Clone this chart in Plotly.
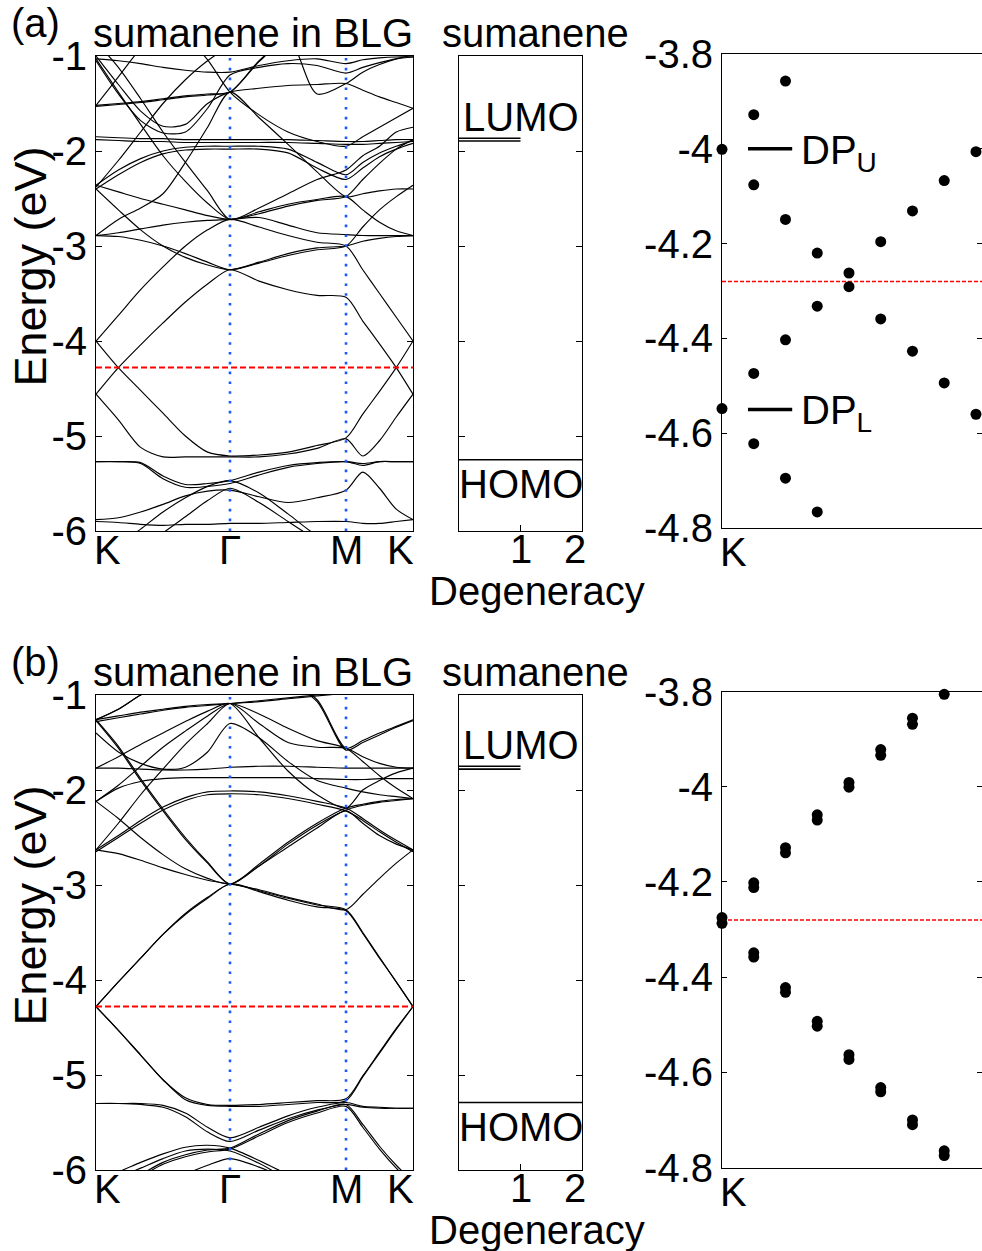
import plotly.graph_objects as go

W, H = 982, 1251
FONT = "Liberation Sans, Arial, Helvetica, sans-serif"
FS = 40
FS_YLAB = 45

# ---------------- data ----------------
# k-path K -> Gamma -> M -> K (units of |Gamma K|)
K_PATH = [0.0, 0.167, 0.333, 0.5, 0.667, 0.833, 1.0, 1.217, 1.433, 1.65, 1.866, 1.991, 2.116, 2.241, 2.366]
HS_POS = [0.0, 1.0, 1.866, 2.366]
HS_LABELS = ["K", "Γ", "M", "K"]
E_FERMI = -4.28

# band energies (eV) at K_PATH points, panel (a)
BANDS_A = [
    [-4.00, -3.73, -3.46, -3.22, -3.00, -2.83, -2.72, -2.80, -2.89, -2.96, -3.00, -3.25, -3.50, -3.75, -4.00],
    [-4.56, -4.28, -4.04, -3.81, -3.59, -3.40, -3.25, -3.37, -3.46, -3.52, -3.54, -3.79, -4.03, -4.28, -4.56],
    [-4.00, -4.28, -4.52, -4.76, -5.00, -5.17, -5.21, -5.20, -5.17, -5.10, -5.02, -4.77, -4.53, -4.28, -4.00],
    [-4.56, -4.83, -5.12, -5.22, -5.22, -5.22, -5.22, -5.22, -5.19, -5.13, -5.03, -5.21, -5.05, -4.80, -4.56],
    [-5.27, -5.27, -5.28, -5.42, -5.51, -5.50, -5.47, -5.38, -5.31, -5.28, -5.27, -5.31, -5.27, -5.27, -5.27],
    [-5.27, -5.27, -5.29, -5.45, -5.54, -5.53, -5.50, -5.41, -5.33, -5.29, -5.27, -5.29, -5.27, -5.27, -5.27],
    [-5.88, -5.86, -5.80, -5.72, -5.63, -5.58, -5.57, -5.64, -5.70, -5.65, -5.57, -5.38, -5.55, -5.77, -5.88],
    [-5.90, -5.91, -5.93, -5.94, -5.93, -5.93, -5.92, -5.92, -5.91, -5.90, -5.90, -5.92, -5.92, -5.90, -5.88],
    [-6.30, -6.15, -5.98, -5.80, -5.65, -5.53, -5.47, -5.60, -5.82, -6.05, -6.20, -6.30, -6.30, -6.30, -6.30],
    [-6.50, -6.40, -6.20, -6.02, -5.85, -5.68, -5.55, -5.70, -5.90, -6.10, -6.30, -6.40, -6.40, -6.40, -6.40],
    [-1.52, -1.50, -1.48, -1.45, -1.42, -1.40, -1.38, -1.05, -0.80, -0.70, -0.70, -0.70, -0.70, -0.70, -0.70],
    [-1.53, -1.51, -1.49, -1.46, -1.43, -1.41, -1.38, -1.06, -0.80, -0.70, -0.70, -0.70, -0.70, -0.70, -0.70],
    [-2.89, -2.72, -2.60, -2.45, -2.12, -1.75, -1.38, -1.65, -1.93, -2.22, -2.48, -2.45, -2.42, -2.40, -2.40],
    [-1.00, -1.30, -1.58, -1.74, -1.72, -1.50, -1.38, -1.34, -1.31, -1.30, -1.29, -1.36, -1.43, -1.49, -1.55],
    [-1.05, -1.40, -1.68, -1.81, -1.80, -1.55, -1.20, -1.12, -1.08, -1.10, -1.18, -1.12, -1.07, -1.03, -1.01],
    [-0.70, -0.70, -0.70, -0.70, -0.70, -0.70, -0.70, -0.70, -0.78, -1.40, -1.29, -1.17, -1.09, -1.03, -0.99],
    [-0.70, -0.70, -0.70, -0.70, -0.80, -1.04, -1.38, -1.62, -1.80, -1.90, -1.95, -1.85, -1.75, -1.65, -1.55],
    [-1.85, -1.86, -1.87, -1.87, -1.88, -1.88, -1.88, -1.88, -1.88, -1.89, -1.90, -1.90, -1.89, -1.88, -1.88],
    [-1.88, -1.89, -1.90, -1.90, -1.91, -1.91, -1.91, -1.91, -1.91, -1.92, -1.93, -1.93, -1.92, -1.91, -1.90],
    [-2.36, -2.20, -2.08, -2.00, -1.96, -1.95, -1.95, -1.95, -1.98, -2.12, -2.25, -2.12, -2.02, -1.95, -1.89],
    [-2.40, -2.25, -2.12, -2.03, -1.99, -1.98, -1.98, -1.98, -2.02, -2.18, -2.30, -2.18, -2.06, -1.98, -1.92],
    [-2.36, -2.43, -2.50, -2.56, -2.62, -2.68, -2.72, -2.66, -2.58, -2.52, -2.48, -2.30, -2.13, -1.98, -1.88],
    [-2.40, -2.62, -2.83, -3.00, -3.12, -3.20, -3.25, -3.18, -3.10, -3.04, -3.00, -2.80, -2.62, -2.48, -2.36],
    [-2.89, -2.90, -2.94, -3.00, -3.08, -3.17, -3.25, -3.17, -3.08, -3.02, -3.00, -2.95, -2.92, -2.90, -2.89],
    [-2.89, -2.86, -2.82, -2.78, -2.75, -2.73, -2.72, -2.70, -2.78, -2.86, -2.88, -2.89, -2.89, -2.89, -2.89],
    [-1.52, -1.22, -0.92, -0.70, -0.70, -0.70, -0.70, -0.70, -0.70, -0.70, -0.70, -0.70, -0.70, -0.70, -0.70],
    [-1.03, -1.38, -1.72, -2.05, -2.32, -2.55, -2.72, -2.64, -2.56, -2.51, -2.48, -2.62, -2.75, -2.84, -2.89],
    [-2.38, -2.10, -1.80, -1.50, -1.25, -1.05, -0.90, -0.80, -0.70, -0.70, -0.70, -0.70, -0.70, -0.70, -0.70],
    [-1.03, -1.05, -1.08, -1.12, -1.15, -1.17, -1.17, -1.10, -1.05, -1.03, -1.08, -1.04, -1.02, -1.01, -1.01],
    [-0.85, -1.12, -1.45, -1.80, -2.12, -2.42, -2.72, -2.60, -2.45, -2.30, -2.20, -2.05, -1.95, -1.80, -1.75],
]

# band energies (eV) at K_PATH points, panel (b)
BANDS_B = [
    [-4.28, -4.02, -3.77, -3.52, -3.30, -3.13, -2.99, -3.06, -3.14, -3.21, -3.26, -3.50, -3.76, -4.02, -4.28],
    [-4.28, -4.02, -3.77, -3.52, -3.31, -3.14, -2.99, -3.07, -3.16, -3.23, -3.27, -3.51, -3.77, -4.02, -4.28],
    [-4.28, -4.53, -4.79, -5.05, -5.24, -5.31, -5.32, -5.31, -5.29, -5.27, -5.25, -5.01, -4.76, -4.51, -4.28],
    [-4.28, -4.53, -4.79, -5.05, -5.26, -5.32, -5.33, -5.33, -5.31, -5.29, -5.27, -5.02, -4.77, -4.52, -4.28],
    [-5.30, -5.30, -5.30, -5.32, -5.40, -5.55, -5.66, -5.55, -5.43, -5.34, -5.29, -5.33, -5.34, -5.35, -5.35],
    [-5.30, -5.30, -5.31, -5.34, -5.44, -5.60, -5.70, -5.58, -5.46, -5.37, -5.31, -5.34, -5.35, -5.35, -5.35],
    [-6.30, -6.20, -6.05, -5.92, -5.84, -5.79, -5.77, -5.62, -5.48, -5.38, -5.31, -5.52, -5.75, -5.95, -6.12],
    [-6.32, -6.22, -6.07, -5.94, -5.86, -5.81, -5.78, -5.64, -5.50, -5.40, -5.33, -5.55, -5.78, -5.98, -6.15],
    [-6.10, -6.02, -5.92, -5.83, -5.76, -5.74, -5.77, -5.90, -6.05, -6.20, -6.30, -6.30, -6.30, -6.30, -6.30],
    [-6.15, -6.08, -5.98, -5.88, -5.80, -5.78, -5.80, -5.93, -6.10, -6.25, -6.35, -6.35, -6.35, -6.35, -6.35],
    [-6.50, -6.40, -6.30, -6.20, -6.05, -5.95, -5.88, -5.97, -6.10, -6.25, -6.40, -6.50, -6.50, -6.50, -6.50],
    [-1.26, -1.22, -1.18, -1.15, -1.12, -1.10, -1.09, -1.06, -1.03, -1.00, -0.97, -0.95, -0.95, -0.95, -0.95],
    [-1.28, -1.24, -1.20, -1.16, -1.13, -1.11, -1.09, -1.07, -1.04, -1.01, -0.98, -0.96, -0.95, -0.95, -0.95],
    [-1.26, -1.15, -1.00, -0.90, -0.85, -0.82, -0.80, -0.80, -0.85, -1.05, -1.56, -1.48, -1.40, -1.33, -1.26],
    [-1.26, -1.15, -1.00, -0.90, -0.85, -0.82, -0.80, -0.80, -0.86, -1.07, -1.58, -1.50, -1.42, -1.34, -1.27],
    [-1.26, -1.54, -1.88, -2.20, -2.50, -2.76, -2.99, -2.78, -2.55, -2.35, -2.19, -2.15, -2.12, -2.10, -2.09],
    [-1.27, -1.56, -1.90, -2.22, -2.52, -2.77, -2.99, -2.80, -2.57, -2.37, -2.21, -2.16, -2.13, -2.11, -2.09],
    [-2.12, -2.30, -2.50, -2.68, -2.83, -2.93, -2.99, -2.80, -2.60, -2.40, -2.22, -2.35, -2.48, -2.57, -2.63],
    [-2.63, -2.67, -2.74, -2.82, -2.89, -2.95, -2.99, -3.05, -3.13, -3.20, -3.26, -3.10, -2.93, -2.77, -2.63],
    [-2.63, -2.48, -2.32, -2.18, -2.08, -2.02, -2.01, -2.02, -2.06, -2.12, -2.19, -2.30, -2.42, -2.53, -2.63],
    [-2.65, -2.50, -2.35, -2.21, -2.11, -2.05, -2.04, -2.05, -2.09, -2.15, -2.22, -2.32, -2.44, -2.55, -2.65],
    [-2.12, -1.98, -1.91, -1.88, -1.87, -1.87, -1.87, -1.87, -1.87, -1.88, -1.89, -1.89, -1.88, -1.88, -1.88],
    [-1.77, -1.77, -1.78, -1.79, -1.79, -1.78, -1.76, -1.75, -1.75, -1.76, -1.77, -1.77, -1.77, -1.77, -1.77],
    [-1.40, -1.60, -1.72, -1.78, -1.76, -1.60, -1.30, -1.45, -1.70, -1.90, -1.98, -2.02, -2.05, -2.07, -2.09],
    [-1.77, -1.65, -1.52, -1.40, -1.28, -1.17, -1.09, -1.45, -1.80, -2.05, -2.19, -2.00, -1.90, -1.82, -1.77],
    [-2.63, -2.35, -2.05, -1.78, -1.52, -1.30, -1.09, -1.30, -1.50, -1.55, -1.56, -1.65, -1.72, -1.76, -1.77],
    [-2.12, -1.95, -1.75, -1.55, -1.38, -1.22, -1.09, -1.20, -1.35, -1.48, -1.56, -1.70, -1.85, -1.98, -2.09],
]

# isolated sumanene levels (energy, degeneracy)
MOL_A_E = [-1.865, -1.895, -5.25]
MOL_A_DEG = [1, 1, 2]
MOL_A_LUMO, MOL_A_HOMO = -1.865, -5.25
MOL_B_E = [-1.75, -1.78, -5.29]
MOL_B_DEG = [1, 1, 2]
MOL_B_LUMO, MOL_B_HOMO = -1.75, -5.29
DEG_TICKS = [1, 2]

# zoom near K (k index, energy)
ZOOM_A_K = [0, 0, 1, 1, 1, 1, 2, 2, 2, 2, 3, 3, 3, 4, 4, 5, 5, 6, 6, 7, 7, 8, 8]
ZOOM_A_E = [-4.001, -4.548, -3.928, -4.076, -4.474, -4.622, -3.857, -4.149, -4.403, -4.695,
            -4.220, -4.332, -4.766, -4.262, -4.291, -4.196, -4.359, -4.131, -4.427, -4.067, -4.494,
            -4.006, -4.560]
ZOOM_B_K = [0, 0, 1, 1, 1, 1, 2, 2, 2, 2, 3, 3, 3, 3, 4, 4, 4, 4, 5, 5, 5, 5, 6, 6, 6, 6, 7, 7, 7]
ZOOM_B_E = [-4.275, -4.287, -4.202, -4.212, -4.349, -4.358, -4.128, -4.139, -4.422, -4.432,
            -4.059, -4.070, -4.493, -4.503, -3.991, -4.001, -4.563, -4.573, -3.922, -3.934, -4.632, -4.641,
            -3.856, -3.869, -4.700, -4.710, -3.806, -4.765, -4.775]
DP_U, DP_L = -4.00, -4.55
ZOOM_TICKS = [-3.8, -4.0, -4.2, -4.4, -4.6, -4.8]
ZOOM_TICKTEXT = ["-3.8", "-4", "-4.2", "-4.4", "-4.6", "-4.8"]
E_TICKS = [-1, -2, -3, -4, -5, -6]
E_TICKTEXT = ["-1", "-2", "-3", "-4", "-5", "-6"]

# ---------------- layout helpers ----------------
def fx(p):
    return p / W

def fy(p):
    return 1 - p / H

# pixel boxes (x0, x1, ytop, ybottom)
ROWS = {
    "a": dict(band=(96, 413, 56, 531), mol=(459, 582, 56, 531), zoom=(722, 982, 54, 528), top=0),
    "b": dict(band=(96, 413, 695, 1170), mol=(459, 582, 695, 1170), zoom=(722, 982, 691.5, 1167.5), top=639),
}

fig = go.Figure()
base_axis = dict(showline=True, linecolor="black", linewidth=1, showgrid=False, zeroline=False,
                 automargin=False,
                 tickfont=dict(family=FONT, size=FS, color="black"), tickcolor="black")
TXT = dict(family=FONT, size=FS, color="black")


def ax_names(i):
    return ("xaxis" if i == 1 else f"xaxis{i}", "yaxis" if i == 1 else f"yaxis{i}",
            "x" if i == 1 else f"x{i}", "y" if i == 1 else f"y{i}")


annotations = []
shapes = []

for r, (row, bands, mol_e, mol_deg, lumo, homo, zk, ze) in enumerate([
        ("a", BANDS_A, MOL_A_E, MOL_A_DEG, MOL_A_LUMO, MOL_A_HOMO, ZOOM_A_K, ZOOM_A_E),
        ("b", BANDS_B, MOL_B_E, MOL_B_DEG, MOL_B_LUMO, MOL_B_HOMO, ZOOM_B_K, ZOOM_B_E)]):
    R = ROWS[row]
    ib, im, iz = 3 * r + 1, 3 * r + 2, 3 * r + 3

    # --- band structure panel ---
    xa, ya, xr, yr = ax_names(ib)
    x0, x1, yt, yb = R["band"]
    fig.update_layout(**{
        xa: dict(base_axis, domain=[fx(x0), fx(x1)], range=[0, K_PATH[-1]], anchor=yr, mirror=True,
                 ticks="", showticklabels=False),
        ya: dict(base_axis, domain=[fy(yb), fy(yt)], range=[-6, -1], anchor=xr, mirror="ticks",
                 ticks="inside", ticklen=6, tickvals=E_TICKS, ticktext=E_TICKTEXT),
    })
    for band in bands:
        fig.add_trace(go.Scatter(x=K_PATH, y=band, mode="lines", xaxis=xr, yaxis=yr,
                                 line=dict(color="black", width=1.15, shape="spline", smoothing=0.8),
                                 showlegend=False, hoverinfo="skip"))
    for hp in HS_POS[1:3]:
        fig.add_trace(go.Scatter(x=[hp, hp], y=[-6, -1], mode="lines", xaxis=xr, yaxis=yr,
                                 line=dict(color="rgb(25,90,255)", width=2.6, dash="2.6px,7.2px"),
                                 showlegend=False, hoverinfo="skip"))
    fig.add_trace(go.Scatter(x=[0, K_PATH[-1]], y=[E_FERMI, E_FERMI], mode="lines", xaxis=xr, yaxis=yr,
                             line=dict(color="red", width=2, dash="6px,3px"),
                             showlegend=False, hoverinfo="skip"))
    lab_y = fy(yb + 19)
    for pos, lab in zip(HS_POS, HS_LABELS):
        anchor = "left" if pos == HS_POS[0] else ("right" if pos == HS_POS[-1] else "center")
        shift = -4 if anchor == "left" else (3 if anchor == "right" else 0)
        annotations.append(dict(x=pos, y=lab_y, xref=xr, yref="paper", text=lab, showarrow=False,
                                xanchor=anchor, yanchor="middle", xshift=shift, font=TXT))

    # --- molecule level panel ---
    xa, ya, xr, yr = ax_names(im)
    x0, x1, yt, yb = R["mol"]
    fig.update_layout(**{
        xa: dict(base_axis, domain=[fx(x0), fx(x1)], range=[0, 2], anchor=yr, mirror=True,
                 ticks="inside", ticklen=6, tickvals=DEG_TICKS, showticklabels=False),
        ya: dict(base_axis, domain=[fy(yb), fy(yt)], range=[-6, -1], anchor=xr, mirror="ticks",
                 ticks="inside", ticklen=6, tickvals=E_TICKS, showticklabels=False),
    })
    for e, d in zip(mol_e, mol_deg):
        fig.add_trace(go.Scatter(x=[0, d], y=[e, e], mode="lines", xaxis=xr, yaxis=yr,
                                 line=dict(color="black", width=1.6),
                                 showlegend=False, hoverinfo="skip"))
    for tv in DEG_TICKS:
        annotations.append(dict(x=tv, y=fy(yb + 18), xref=xr, yref="paper", text=str(tv), showarrow=False,
                                xanchor="center" if tv == 1 else "right", yanchor="middle",
                                xshift=0 if tv == 1 else 6, font=TXT))
    annotations.append(dict(x=1.0, y=lumo, xref=xr, yref=yr, text="LUMO", showarrow=False,
                            xanchor="center", yanchor="bottom", yshift=-3, font=TXT))
    annotations.append(dict(x=1.0, y=homo, xref=xr, yref=yr, text="HOMO", showarrow=False,
                            xanchor="center", yanchor="top", yshift=0, font=TXT))
    annotations.append(dict(x=fx(537), y=fy(yb + 60), xref="paper", yref="paper", text="Degeneracy",
                            showarrow=False, xanchor="center", yanchor="middle", font=TXT))

    # --- zoom panel ---
    xa, ya, xr, yr = ax_names(iz)
    x0, x1, yt, yb = R["zoom"]
    fig.update_layout(**{
        xa: dict(base_axis, domain=[fx(x0), fx(x1)], range=[0, 8.19], anchor=yr, mirror=True,
                 ticks="", showticklabels=False),
        ya: dict(base_axis, domain=[fy(yb), fy(yt)], range=[-4.8, -3.8], anchor=xr, mirror="ticks",
                 ticks="inside", ticklen=5, tickvals=ZOOM_TICKS, ticktext=ZOOM_TICKTEXT),
    })
    fig.add_trace(go.Scatter(x=[0, 8.19], y=[E_FERMI, E_FERMI], mode="lines", xaxis=xr, yaxis=yr,
                             line=dict(color="red", width=1.5, dash="4px,2px"),
                             showlegend=False, hoverinfo="skip"))
    fig.add_trace(go.Scatter(x=zk, y=ze, mode="markers", xaxis=xr, yaxis=yr, cliponaxis=False,
                             marker=dict(color="black", size=11, line=dict(width=0)),
                             showlegend=False, hoverinfo="skip"))
    annotations.append(dict(x=0, y=fy(yb + 24), xref=xr, yref="paper", text="K", showarrow=False,
                            xanchor="left", yanchor="middle", xshift=-4, font=TXT))
    if row == "a":
        for e_dp, lab in [(DP_U, "DP<sub>U</sub>"), (DP_L, "DP<sub>L</sub>")]:
            shapes.append(dict(type="line", xref=f"{xr} domain", yref=yr, x0=0.1, x1=0.27, y0=e_dp, y1=e_dp,
                               line=dict(color="black", width=3.5)))
            annotations.append(dict(x=0.298, y=e_dp, xref=f"{xr} domain", yref=yr, text=lab, showarrow=False,
                                    xanchor="left", yanchor="middle", yshift=-4, font=TXT))

    # --- titles ---
    top = R["top"]
    annotations.append(dict(x=fx(35), y=fy(top + 23), xref="paper", yref="paper", text=f"({row})",
                            showarrow=False, xanchor="center", yanchor="middle", font=TXT))
    annotations.append(dict(x=fx(253), y=fy(top + 33), xref="paper", yref="paper", text="sumanene in BLG",
                            showarrow=False, xanchor="center", yanchor="middle", font=TXT))
    annotations.append(dict(x=fx(535), y=fy(top + 33), xref="paper", yref="paper", text="sumanene",
                            showarrow=False, xanchor="center", yanchor="middle", font=TXT))
    by0, by1 = R["band"][2], R["band"][3]
    annotations.append(dict(x=fx(30), y=fy((by0 + by1) / 2 - 27), xref="paper", yref="paper",
                            text="Energy (eV)", textangle=-90, showarrow=False,
                            xanchor="center", yanchor="middle",
                            font=dict(family=FONT, size=FS_YLAB, color="black")))

fig.update_layout(template="none", width=W, height=H, margin=dict(l=0, r=0, t=0, b=0, autoexpand=False),
                  paper_bgcolor="white", plot_bgcolor="white",
                  annotations=annotations, shapes=shapes, showlegend=False, font=TXT)

fig.write_html("out.html", config={"displayModeBar": False, "responsive": False},
               post_script="document.body.style.margin='0px';document.body.style.overflow='hidden';")
